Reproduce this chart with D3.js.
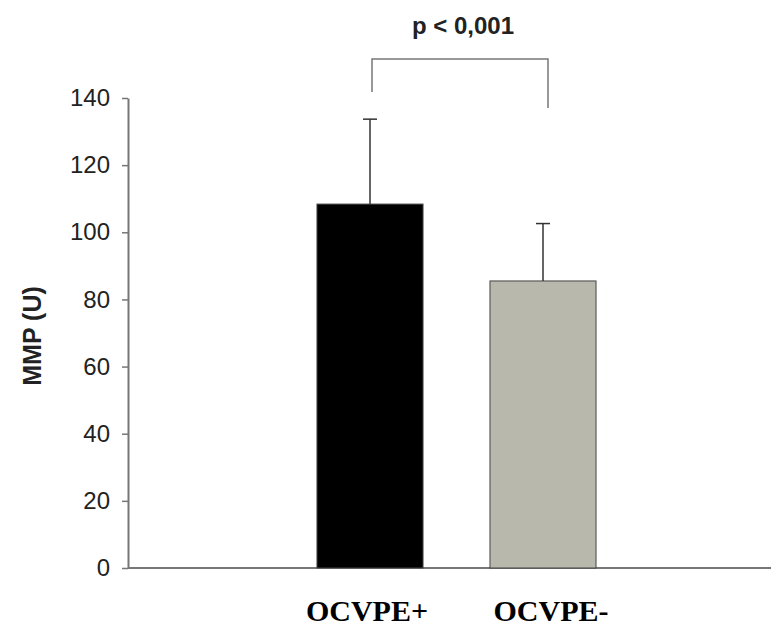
<!DOCTYPE html>
<html>
<head>
<meta charset="utf-8">
<script src="https://cdn.jsdelivr.net/npm/d3@7"></script>
<style>
  body { margin: 0; background: #fff; }
  svg { display: block; }
</style>
</head>
<body>
<svg id="chart" width="772" height="628"></svg>
<script>
// data
const groups = ["OCVPE+", "OCVPE-"];
const means = [108.4, 85.5];
const errTops = [133.7, 102.6];
const barColors = ["#000000", "#b8b8ac"];
const yTicks = [0, 20, 40, 60, 80, 100, 120, 140];
const pLabel = "p < 0,001";

const svg = d3.select("#chart");
const axisColor = "#777";

const y = d3.scaleLinear().domain([0, 140]).range([568, 98]);
const x = d3.scaleBand().domain(groups).range([283.5, 629.5])
  .paddingInner(0.387).paddingOuter(0.1935);

// axes lines
svg.append("line").attr("x1", 128).attr("x2", 771).attr("y1", y(0)).attr("y2", y(0))
  .attr("stroke", axisColor).attr("stroke-width", 2);

const yAxis = svg.append("g").attr("transform", "translate(128,0)")
  .call(d3.axisLeft(y).tickValues(yTicks).tickSize(6).tickPadding(12).tickSizeOuter(0));
yAxis.select(".domain").attr("stroke", axisColor).attr("stroke-width", 2);
yAxis.selectAll(".tick line").attr("stroke", axisColor).attr("stroke-width", 1.5);
yAxis.selectAll(".tick text").attr("fill", "#222")
  .style("font-family", "Arial, 'Liberation Sans', sans-serif").style("font-size", "24px");

// bars
svg.selectAll("rect.bar").data(groups).enter().append("rect")
  .attr("class", "bar")
  .attr("x", d => x(d)).attr("width", x.bandwidth())
  .attr("y", (d, i) => y(means[i])).attr("height", (d, i) => y(0) - y(means[i]))
  .attr("fill", (d, i) => barColors[i])
  .attr("stroke", "#444").attr("stroke-width", 1);

// error bars
const cx = d => x(d) + x.bandwidth() / 2;
svg.selectAll("line.err").data(groups).enter().append("line")
  .attr("x1", cx).attr("x2", cx)
  .attr("y1", (d, i) => y(means[i])).attr("y2", (d, i) => y(errTops[i]))
  .attr("stroke", "#333").attr("stroke-width", 1.5);
svg.selectAll("line.cap").data(groups).enter().append("line")
  .attr("x1", d => cx(d) - 7).attr("x2", d => cx(d) + 7)
  .attr("y1", (d, i) => y(errTops[i])).attr("y2", (d, i) => y(errTops[i]))
  .attr("stroke", "#333").attr("stroke-width", 1.5);

// significance bracket
const bx1 = cx(groups[0]) + 2, bx2 = cx(groups[1]) + 5;
svg.append("path")
  .attr("d", `M${bx1},92 V59 H${bx2} V108`)
  .attr("fill", "none").attr("stroke", axisColor).attr("stroke-width", 1.5);
svg.append("text").attr("x", 463).attr("y", 34).attr("text-anchor", "middle")
  .attr("fill", "#222")
  .style("font-family", "Arial, 'Liberation Sans', sans-serif")
  .style("font-size", "24px").style("font-weight", "bold")
  .text(pLabel);

// category labels
svg.selectAll("text.cat").data(groups).enter().append("text")
  .attr("class", "cat")
  .attr("x", d => cx(d) + (d === "OCVPE-" ? 8 : -3)).attr("y", 621)
  .attr("text-anchor", "middle").attr("fill", "#000")
  .style("font-family", "'Times New Roman', 'Liberation Serif', serif")
  .style("font-size", "30px").style("font-weight", "bold")
  .text(d => d);

// y label
svg.append("text")
  .attr("transform", "translate(41,336) rotate(-90)")
  .attr("text-anchor", "middle").attr("fill", "#222")
  .style("font-family", "Arial, 'Liberation Sans', sans-serif")
  .style("font-size", "25px").style("font-weight", "bold")
  .text("MMP (U)");
</script>
</body>
</html>
